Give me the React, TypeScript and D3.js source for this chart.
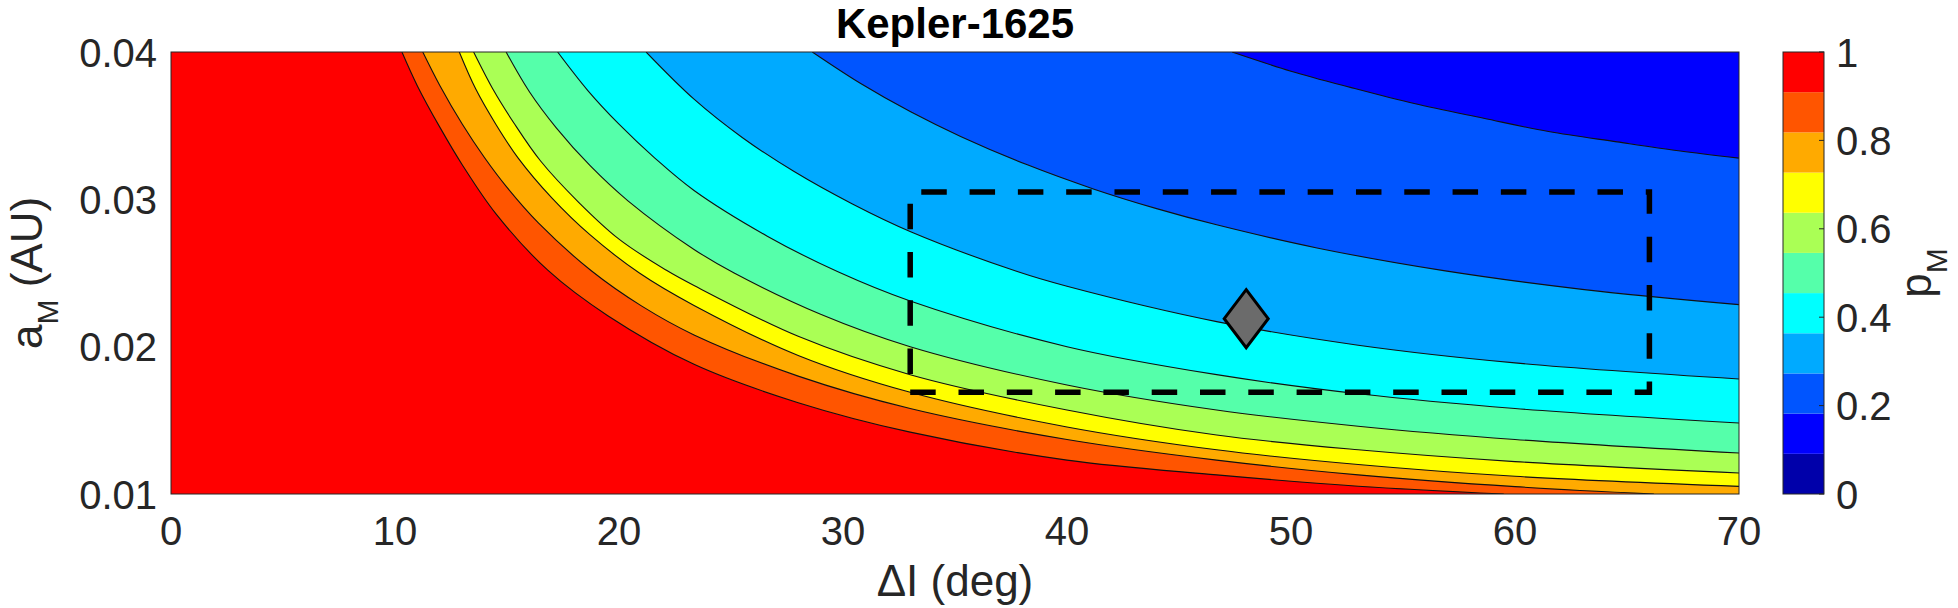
import React, { useEffect } from 'react';
import * as d3 from 'd3';

const W = 1958;
const H = 608;

// jet(11): one colour per probability band, from 0 (bottom) to 1 (top)
const jet11 = ['#0000AA', '#0000FF', '#0055FF', '#00AAFF', '#00FFFF', '#55FFAA', '#AAFF55', '#FFFF00', '#FFAA00', '#FF5500', '#FF0000'];

const xTicks = [0, 10, 20, 30, 40, 50, 60, 70];
const yTicks = [0.01, 0.02, 0.03, 0.04];
const yTickLabels = ['0.01', '0.02', '0.03', '0.04'];
const cbTicks = [0, 0.2, 0.4, 0.6, 0.8, 1];
const cbTickLabels = ['0', '0.2', '0.4', '0.6', '0.8', '1'];

// Contour boundaries of p_M, each as [ΔI (deg), a_M (AU)] from the top edge to the right/bottom edge
const contour02 = [[47.37, 0.04], [50, 0.0387], [52.65, 0.0376], [55.5, 0.0365], [58.6, 0.0355], [61.5, 0.0346], [64.56, 0.0339], [67.3, 0.0333], [70, 0.0328]];
const contour03 = [[28.63, 0.04], [30.79, 0.03786], [33.02, 0.03594], [35.25, 0.03427], [38.23, 0.03234], [41.21, 0.03069], [44, 0.02937], [46.68, 0.02827], [51.16, 0.0267], [56.82, 0.02516], [63, 0.02389], [70, 0.02285]];
const contour04 = [[21.21, 0.04], [23.35, 0.0368], [25.5, 0.0342], [27.8, 0.0319], [30.4, 0.0297], [33.02, 0.0278], [37.78, 0.0251], [40, 0.0241], [46.68, 0.0217], [53, 0.0201], [60, 0.0189], [70, 0.01781]];
const contour05 = [[17.26, 0.04], [18.6, 0.0374], [20, 0.0351], [21.6, 0.0328], [23.35, 0.0306], [26.62, 0.0275], [29.75, 0.0251], [33, 0.0231], [40, 0.02], [46.68, 0.0181], [53, 0.0168], [60, 0.0158], [70, 0.01482]];
const contour06 = [[14.96, 0.04], [16, 0.0373], [17.2, 0.03485], [18.7, 0.0323], [20.4, 0.0299], [23.35, 0.0266], [25.14, 0.025], [29, 0.0222], [33, 0.02], [40, 0.0174], [46.68, 0.0157], [53, 0.0146], [60, 0.0137], [70, 0.01278]];
const contour07 = [[13.51, 0.04], [14.4, 0.0374], [15.3, 0.0352], [16.5, 0.0326], [18.2, 0.0298], [20, 0.0273], [22.1, 0.0252], [23.35, 0.02415], [28, 0.0207], [33, 0.0181], [40, 0.0157], [46.68, 0.014], [53, 0.013], [60, 0.0122], [70, 0.01143]];
const contour08 = [[12.87, 0.04], [13.6, 0.0375], [14.5, 0.0351], [15.5, 0.0328], [17, 0.0301], [18.7, 0.0276], [20.91, 0.025], [23.35, 0.0228], [28, 0.0194], [33, 0.0169], [40, 0.01455], [46.68, 0.013], [53, 0.012], [60, 0.0112], [70, 0.01052]];
const contour09 = [[11.24, 0.04], [12, 0.03773], [13, 0.03511], [14, 0.03282], [15, 0.03081], [16.4, 0.0284], [18.75, 0.02517], [21, 0.02277], [23.35, 0.0208], [28, 0.018], [33, 0.0158], [40, 0.0137], [46.68, 0.0123], [53, 0.0113], [60, 0.0105], [66.2, 0.01]];
const contour10 = [[10.31, 0.04], [11, 0.0377], [12, 0.0349], [13, 0.03235], [14.5, 0.02903], [16.82, 0.02519], [19.5, 0.0221], [23.35, 0.0188], [28, 0.0162], [33, 0.0142], [40, 0.0123], [46.68, 0.0113], [53, 0.01053], [59.5, 0.01]];

const contourLevels = [0.2, 0.3, 0.4, 0.5, 0.6, 0.7, 0.8, 0.9, 1.0];
const contourLines = [contour02, contour03, contour04, contour05, contour06, contour07, contour08, contour09, contour10];
const backgroundLevel = 0.1;

// Allowed region (dashed box) and best-fit moon
const boxDeltaI = [33, 66];
const boxAM = [0.0169, 0.0305];
const moonPoint = [48, 0.0219];

const FONT = '"Liberation Sans", Arial, Helvetica, sans-serif';

function levelColor(level: number) {
  return jet11[Math.min(10, Math.floor(level * 11 + 1e-9))];
}

export default function App() {
  useEffect(() => {
    document.body.style.margin = '0';
  }, []);

  const left = 171, right = 1739, top = 52, bottom = 494;
  const x = d3.scaleLinear().domain([0, 70]).range([left, right]);
  const y = d3.scaleLinear().domain([0.01, 0.04]).range([bottom, top]);
  const cbLeft = 1783, cbRight = 1824;
  const cb = d3.scaleLinear().domain([0, 1]).range([bottom, top]);

  const line = d3
    .line<number[]>()
    .x((d) => x(d[0]))
    .y((d) => y(d[1]))
    .curve(d3.curveCatmullRom.alpha(0.5));

  // area on the high-probability side (lower left) of a boundary
  const regionPath = (pts: number[][]) => {
    const last = pts[pts.length - 1];
    return (
      line(pts) +
      `L${x(last[0])},${y(0.01)}L${x(0)},${y(0.01)}L${x(0)},${y(0.04)}Z`
    );
  };

  const boxPts = [
    [boxDeltaI[0], boxAM[0]],
    [boxDeltaI[1], boxAM[0]],
    [boxDeltaI[1], boxAM[1]],
    [boxDeltaI[0], boxAM[1]],
    [boxDeltaI[0], boxAM[0]],
  ];
  const boxLine = d3
    .line<number[]>()
    .x((d) => x(d[0]))
    .y((d) => y(d[1]));

  const mx = x(moonPoint[0]);
  const my = y(moonPoint[1]);
  const dw = 22, dh = 29;
  const diamond = `M${mx},${my - dh}L${mx + dw},${my}L${mx},${my + dh}L${mx - dw},${my}Z`;

  const bands = d3.range(11).map((i) => ({ lo: i / 11, hi: (i + 1) / 11, color: jet11[i] }));

  return (
    <svg width={W} height={H} style={{ position: 'absolute', left: 0, top: 0, background: '#fff' }} fontFamily={FONT}>
      <defs>
        <clipPath id="plotClip">
          <rect x={left} y={top} width={right - left} height={bottom - top} />
        </clipPath>
      </defs>

      <g clipPath="url(#plotClip)">
        <rect x={left} y={top} width={right - left} height={bottom - top} fill={levelColor(backgroundLevel)} />
        {contourLines.map((pts, i) => (
          <path key={'f' + i} d={regionPath(pts)} fill={levelColor(contourLevels[i])} />
        ))}
        {contourLines.map((pts, i) => (
          <path key={'l' + i} d={line(pts) || ''} fill="none" stroke="#111" strokeWidth={1.1} />
        ))}
        <path
          d={boxLine(boxPts) || ''}
          fill="none"
          stroke="#000"
          strokeWidth={5.5}
          strokeDasharray="25.5 22.8"
        />
        <path d={diamond} fill="#6b6b6b" stroke="#000" strokeWidth={3} strokeLinejoin="miter" />
      </g>
      <rect x={left} y={top} width={right - left} height={bottom - top} fill="none" stroke="#262626" strokeWidth={1} />

      {/* x axis tick labels */}
      {xTicks.map((t) => (
        <text key={'xt' + t} x={x(t)} y={545} fontSize={40} textAnchor="middle" fill="#262626">
          {t}
        </text>
      ))}
      {/* y axis tick labels */}
      {yTicks.map((t, i) => (
        <text key={'yt' + t} x={157} y={y(t) + 14.5} fontSize={40} textAnchor="end" fill="#262626">
          {yTickLabels[i]}
        </text>
      ))}

      <text x={(left + right) / 2} y={38} fontSize={42} fontWeight="bold" textAnchor="middle" fill="#000">
        Kepler-1625
      </text>

      <text x={(left + right) / 2} y={596} fontSize={44} textAnchor="middle" fill="#262626">
        ΔI (deg)
      </text>

      <text transform={`translate(42,${(top + bottom) / 2}) rotate(-90)`} fontSize={44} textAnchor="middle" fill="#262626">
        <tspan>a</tspan>
        <tspan fontSize={30} dy={16}>M</tspan>
        <tspan dy={-16}> (AU)</tspan>
      </text>

      {/* colorbar */}
      {bands.map((b, i) => (
        <rect key={'cb' + i} x={cbLeft} y={cb(b.hi)} width={cbRight - cbLeft} height={cb(b.lo) - cb(b.hi)} fill={b.color} />
      ))}
      <rect x={cbLeft} y={top} width={cbRight - cbLeft} height={bottom - top} fill="none" stroke="#262626" strokeWidth={1} />
      {cbTicks.map((t, i) => (
        <g key={'cbt' + t}>
          <line x1={cbRight - 5} x2={cbRight} y1={cb(t)} y2={cb(t)} stroke="#262626" strokeWidth={1} />
          <text x={1836} y={cb(t) + 14.5} fontSize={40} textAnchor="start" fill="#262626">
            {cbTickLabels[i]}
          </text>
        </g>
      ))}
      <text transform={`translate(1931,${(top + bottom) / 2}) rotate(-90)`} fontSize={44} textAnchor="middle" fill="#262626">
        <tspan>p</tspan>
        <tspan fontSize={30} dy={16}>M</tspan>
      </text>
    </svg>
  );
}
